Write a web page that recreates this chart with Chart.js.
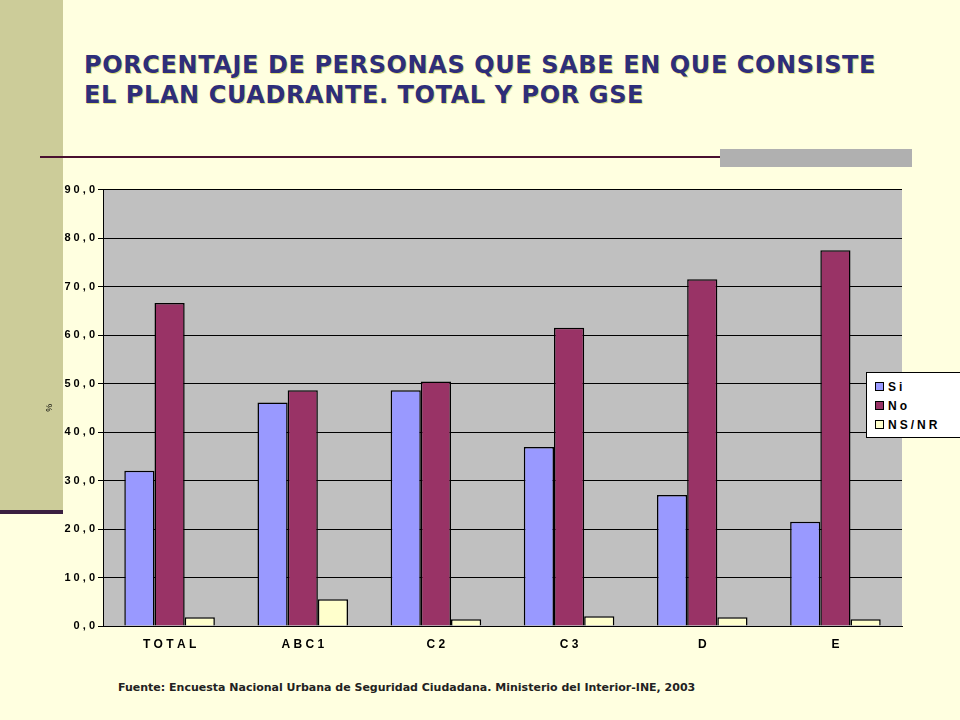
<!DOCTYPE html>
<html><head><meta charset="utf-8">
<script src="https://cdn.jsdelivr.net/npm/chart.js"></script>
<style>
body{margin:0;width:960px;height:720px;background:#FFFFE0;position:relative;overflow:hidden;font-family:Verdana,"DejaVu Sans",sans-serif}
#band{position:absolute;left:0;top:0;width:63px;height:511px;background:#CCCC99}
#bandline{position:absolute;left:0;top:510px;width:63px;height:4px;background:#3a2040}
#title{position:absolute;left:84px;top:50px;font-size:24px;font-weight:bold;color:#2E2E7A;line-height:30px;text-shadow:1px 1px 0 #e0e080;letter-spacing:0.6px;font-family:"DejaVu Sans",sans-serif}
#hline{position:absolute;left:40px;top:156px;width:872px;height:2px;background:#4a1030}
#gbox{position:absolute;left:720px;top:149px;width:192px;height:18px;background:#B0B0B0}
#wrap{position:absolute;left:40px;top:180px;width:920px;height:476px}
#legend{position:absolute;left:866px;top:372px;width:106px;height:66px;background:#fff;border:1px solid #000;font-family:Arial,"Liberation Sans",sans-serif;font-size:12px;font-weight:bold;letter-spacing:3px;box-sizing:border-box;padding:4px 0 0 8px}
#legend div{height:19px;display:flex;align-items:center}
#legend span{display:inline-block;width:7px;height:7px;border:1px solid #000;margin-right:4px}
#src{position:absolute;left:118px;top:681px;font-size:11px;font-weight:bold;color:#222}
</style></head><body>
<div id="band"></div><div id="bandline"></div>
<div id="title">PORCENTAJE DE PERSONAS QUE SABE EN QUE CONSISTE<br>EL PLAN CUADRANTE. TOTAL Y POR GSE</div>
<div id="hline"></div><div id="gbox"></div>
<div id="wrap"><canvas id="c"></canvas></div>
<div id="legend"><div><span style="background:#9999FF"></span>Si</div><div><span style="background:#993366"></span>No</div><div><span style="background:#FFFFCC"></span>NS/NR</div></div>
<div id="src">Fuente: Encuesta Nacional Urbana de Seguridad Ciudadana. Ministerio del Interior-INE, 2003</div>
<script>
const categories=["T O T A L","A B C 1","C 2","C 3","D","E"];
const si=[32.0,46.1,48.6,36.9,27.0,21.5];
const no=[66.6,48.6,50.4,61.5,71.5,77.5];
const nsnr=[1.8,5.5,1.4,2.0,1.8,1.4];
const yTicks=[0,10,20,30,40,50,60,70,80,90];
const bg={id:'bg',beforeDraw(c){const a=c.chartArea,x=c.ctx;x.save();x.fillStyle='#C0C0C0';x.fillRect(a.left,a.top,a.width,a.height);x.restore();}};
const ds=(l,d,col)=>({label:l,data:d,backgroundColor:col,borderColor:'#000',borderWidth:1.5,categoryPercentage:0.68,barPercentage:1});
new Chart(document.getElementById('c'),{type:'bar',
data:{labels:categories,datasets:[ds('Si',si,'#9999FF'),ds('No',no,'#993366'),ds('NS/NR',nsnr,'#FFFFCC')]},
options:{responsive:true,maintainAspectRatio:false,animation:false,
layout:{padding:{top:7,right:58,left:0,bottom:0}},
plugins:{legend:{display:false},tooltip:{enabled:false}},
scales:{
x:{grid:{display:false,drawTicks:true},border:{color:'#000'},ticks:{color:'#000',font:{family:'Arial',size:12,weight:'bold'}},afterFit(s){s.height=30;}},
y:{min:0,max:90,afterBuildTicks(s){s.ticks=yTicks.map(v=>({value:v}));},
 grid:{color:'#000',lineWidth:1,tickLength:5},border:{color:'#000'},
 ticks:{color:'#000',font:{family:'Arial',size:11,weight:'bold'},callback:v=>v.toFixed(1).replace('.',',').split('').join(' ')},
 title:{display:true,text:'%',color:'#000',font:{size:9}},afterFit(s){s.width=63;}}}},
plugins:[bg]});
</script></body></html>
